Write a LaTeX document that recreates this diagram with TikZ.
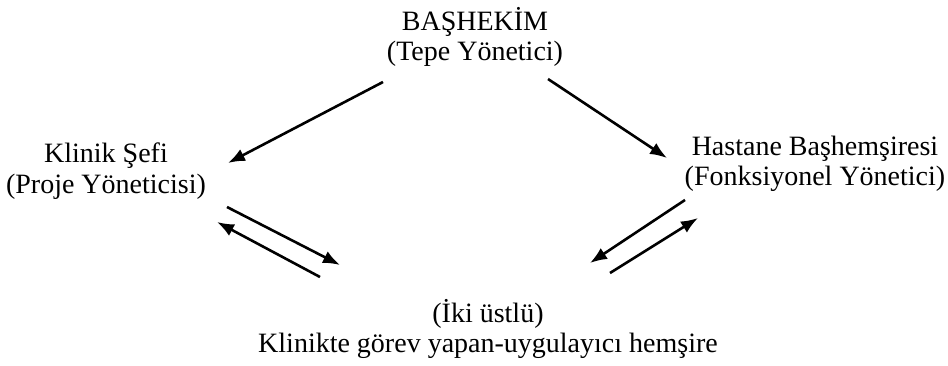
\documentclass[tikz,border=0pt]{standalone}
\usepackage{fontspec}
\setmainfont{Liberation Serif}
\usetikzlibrary{arrows.meta}
\tikzset{
  lbl/.style={inner sep=0pt, align=center, font=\fontsize{28}{30.5}\selectfont},
  arr/.style={line width=2.6pt, -{Latex[length=17pt,width=13pt]}}
}
\begin{document}
\begin{tikzpicture}[x=1pt,y=-1pt]
\useasboundingbox (0,0) rectangle (948,366);
\node[lbl] (top) at (475,37) {BAŞHEKİM\\(Tepe Yönetici)};
\node[lbl] (left) at (106,171) {Klinik Şefi\\(Proje Yöneticisi)};
\node[lbl] (right) at (815,164) {Hastane Başhemşiresi\\(Fonksiyonel Yönetici)};
\node[lbl] (bottom) at (488,329) {(İki üstlü)\\Klinikte görev yapan-uygulayıcı hemşire};
% connector end points
\coordinate (t1) at (383,82);
\coordinate (l1) at (228,163);
\coordinate (t2) at (548,79);
\coordinate (r1) at (667,158);
\coordinate (la) at (227,207);
\coordinate (ba) at (340,265);
\coordinate (bb) at (320,277);
\coordinate (lb) at (217,222);
\coordinate (rc) at (685,200);
\coordinate (bc) at (590,263);
\coordinate (bd) at (610,273);
\coordinate (rd) at (698,218);
\draw[arr] (t1) -- (l1);
\draw[arr] (t2) -- (r1);
\draw[arr] (la) -- (ba);
\draw[arr] (bb) -- (lb);
\draw[arr] (rc) -- (bc);
\draw[arr] (bd) -- (rd);
\end{tikzpicture}
\end{document}
